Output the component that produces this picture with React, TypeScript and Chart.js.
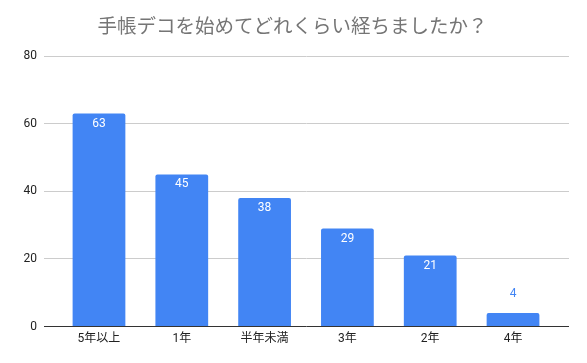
import React, { useEffect, useRef } from "react";
import { Chart, registerables } from "chart.js";

Chart.register(...registerables);

const title = "手帳デコを始めてどれくらい経ちましたか？";
const categories = ["5年以上", "1年", "半年未満", "3年", "2年", "4年"];
const values = [63, 45, 38, 29, 21, 4];
const yTicks = [0, 20, 40, 60, 80];

const FONT = "Roboto, 'Noto Sans CJK JP', sans-serif";
const BLUE = "#4285F4";

const labelPlugin = {
  id: "barLabels",
  afterDatasetsDraw(chart: any) {
    const ctx = chart.ctx;
    const meta = chart.getDatasetMeta(0);
    ctx.save();
    ctx.font = `12px ${FONT}`;
    ctx.textAlign = "center";
    ctx.textBaseline = "middle";
    meta.data.forEach((bar: any, i: number) => {
      const h = bar.base - bar.y;
      const txt = String(values[i]);
      if (h > 24) {
        ctx.fillStyle = "#ffffff";
        ctx.fillText(txt, bar.x, bar.y + 10);
      } else {
        ctx.fillStyle = BLUE;
        ctx.fillText(txt, bar.x, bar.y - 19);
      }
    });
    ctx.restore();
  },
};

const titlePlugin = {
  id: "centerTitle",
  afterDraw(chart: any) {
    const ctx = chart.ctx;
    ctx.save();
    ctx.font = `19.5px ${FONT}`;
    ctx.fillStyle = "#757575";
    ctx.textAlign = "center";
    ctx.textBaseline = "middle";
    ctx.fillText(title, chart.width / 2 - 1, 28);
    ctx.restore();
  },
};

export default function App() {
  const ref = useRef<HTMLCanvasElement>(null);
  useEffect(() => {
    if (!ref.current) return;
    const chart = new Chart(ref.current, {
      type: "bar",
      data: {
        datasets: [
          {
            data: values.map((v, i) => ({ x: i, y: v })),
            backgroundColor: BLUE,
            borderRadius: 2,
            barPercentage: 0.637,
            categoryPercentage: 1,
          },
        ],
      },
      plugins: [labelPlugin, titlePlugin],
      options: {
        animation: false,
        responsive: false,
        devicePixelRatio: 1,
        layout: { padding: { left: 0, right: 18, top: 56, bottom: 0 } },
        plugins: {
          legend: { display: false },
          tooltip: { enabled: false },
          title: { display: false },
        },
        scales: {
          x: {
            type: "linear",
            offset: false,
            min: -0.664,
            max: 5.676,
            grid: { display: false, drawTicks: false, offset: false },
            border: { display: false },
            afterBuildTicks: (scale: any) => {
              scale.ticks = categories.map((_, i) => ({ value: i }));
            },
            afterFit: (scale: any) => {
              scale.height = 36.4;
            },
            ticks: {
              color: "#222",
              font: { family: FONT, size: 12 },
              padding: 5,
              maxRotation: 0,
              autoSkip: false,
              callback: (v: any) => categories[v] ?? "",
            },
          },
          y: {
            min: 0,
            max: 80,
            afterBuildTicks: (scale: any) => {
              scale.ticks = yTicks.map((v) => ({ value: v }));
            },
            afterFit: (scale: any) => {
              scale.width = 44;
            },
            grid: {
              drawTicks: false,
              color: (c: any) => (c.tick && c.tick.value === 0 ? "#333333" : "#cccccc"),
            },
            border: { display: false },
            ticks: {
              color: "#222",
              font: { family: FONT, size: 12 },
              padding: 7,
            },
          },
        },
      },
    } as any);
    return () => chart.destroy();
  }, []);
  return (
    <div style={{ position: "fixed", left: 0, top: 0, width: 587, height: 363, background: "#fff" }}>
      <canvas ref={ref} width={587} height={363} />
    </div>
  );
}
